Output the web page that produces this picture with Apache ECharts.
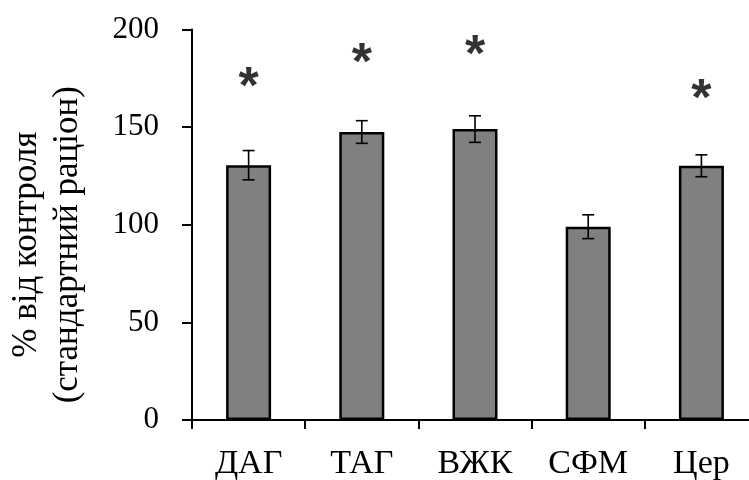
<!DOCTYPE html>
<html><head><meta charset="utf-8">
<script src="https://cdn.jsdelivr.net/npm/echarts@6/dist/echarts.min.js"></script>
<style>html,body{margin:0;padding:0;background:#fff}#c{width:749px;height:480px}</style>
</head><body><div id="c"></div>
<script>
const categories = ['ДАГ', 'ТАГ', 'ВЖК', 'СФМ', 'Цер'];
const means = [130.5, 147.5, 149, 99, 130.2];
const errors = [7.5, 5.8, 6.8, 6.1, 5.6];
const starLevels = [175, 187, 191, null, 168.5];
const yTicks = [0, 50, 100, 150, 200];
const yTitle = '% від контроля\n(стандартний раціон)';

const chart = echarts.init(document.getElementById('c'), null, {renderer: 'canvas'});
const serif = 'Liberation Serif';
chart.setOption({
  animation: false,
  grid: {left: 192, top: 29.5, height: 390.5, width: 566, containLabel: false, outerBoundsMode: 'none'},
  xAxis: {
    type: 'category', data: categories,
    axisLine: {lineStyle: {color: '#000', width: 2}},
    axisTick: {show: true, length: 9, lineStyle: {color: '#000', width: 2}},
    axisLabel: {color: '#000', fontFamily: serif, fontSize: 34, margin: 27},
    splitLine: {show: false}
  },
  yAxis: {
    type: 'value', min: yTicks[0], max: yTicks[yTicks.length - 1], interval: 50,
    axisLine: {show: true, lineStyle: {color: '#000', width: 2}},
    axisTick: {show: true, length: 10, lineStyle: {color: '#000', width: 2}},
    axisLabel: {color: '#000', fontFamily: serif, fontSize: 31, margin: 33},
    splitLine: {show: false},
    name: yTitle, nameLocation: 'middle', nameGap: 104,
    nameTextStyle: {color: '#000', fontFamily: serif, fontSize: 35, lineHeight: 41, padding: [0, 40, 0, 0]}
  },
  series: [
    {
      type: 'bar', data: means, barWidth: 45,
      itemStyle: {color: '#808080', borderColor: '#000', borderWidth: 2.5}
    },
    {
      type: 'custom',
      data: means.map((m, i) => [i, m - errors[i], m + errors[i]]),
      renderItem: function (params, api) {
        const x = api.value(0);
        const lo = api.coord([x, api.value(1)]);
        const hi = api.coord([x, api.value(2)]);
        const hw = 6;
        const st = {stroke: '#000', lineWidth: 1.6};
        return {type: 'group', children: [
          {type: 'line', shape: {x1: lo[0], y1: lo[1], x2: hi[0], y2: hi[1]}, style: st},
          {type: 'line', shape: {x1: hi[0] - hw, y1: hi[1], x2: hi[0] + hw, y2: hi[1]}, style: st},
          {type: 'line', shape: {x1: lo[0] - hw, y1: lo[1], x2: lo[0] + hw, y2: lo[1]}, style: st}
        ]};
      },
      z: 5
    },
    {
      type: 'scatter', data: starLevels, symbolSize: 0,
      label: {show: true, formatter: '*', position: 'inside', color: '#000',
        fontFamily: 'Liberation Sans', fontWeight: 'bold', fontSize: 52, offset: [0, 10]}
    }
  ]
});
</script></body></html>
